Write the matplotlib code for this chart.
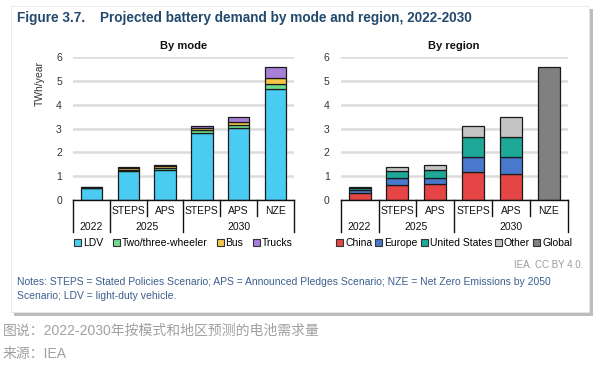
import matplotlib
matplotlib.use("Agg")
import matplotlib.pyplot as plt
from matplotlib.patches import Rectangle, Patch
import matplotlib.transforms as mtransforms
import numpy as np

plt.rcParams['font.family'] = ['Liberation Sans', 'Noto Sans CJK SC', 'DejaVu Sans']

# ---------------- data ----------------
level1 = ['', 'STEPS', 'APS', 'STEPS', 'APS', 'NZE']
level2 = ['2022', '2025', '2025', '2030', '2030', '2030']

mode_names = ['LDV', 'Two/three-wheeler', 'Bus', 'Trucks']
ldv = [0.49, 1.23, 1.25, 2.83, 3.03, 4.68]
two_three = [0.02, 0.05, 0.09, 0.10, 0.12, 0.19]
bus = [0.02, 0.05, 0.07, 0.08, 0.12, 0.27]
trucks = [0.02, 0.05, 0.08, 0.12, 0.22, 0.46]

region_names = ['China', 'Europe', 'United States', 'Other', 'Global']
china = [0.30, 0.63, 0.66, 1.18, 1.08, 0]
europe = [0.12, 0.30, 0.28, 0.64, 0.71, 0]
united_states = [0.08, 0.31, 0.33, 0.83, 0.86, 0]
other = [0.05, 0.14, 0.22, 0.48, 0.84, 0]
global_ = [0, 0, 0, 0, 0, 5.6]

yticks = [0, 1, 2, 3, 4, 5, 6]

mode_colors = ['#4acbf2', '#6fdc8c', '#f5c84a', '#a77fd8']
region_colors = ['#e64545', '#4a78cc', '#1ea898', '#c4c4c4', '#808080']

# ---------------- figure ----------------
fig = plt.figure(figsize=(6.0, 3.66), dpi=100)
fig.patch.set_facecolor('white')

W, H = 600.0, 366.0
def fx(px): return px / W
def fy(py): return 1 - py / H

# card with shadow
shadow = Rectangle((fx(14), fy(316)), fx(579), (316 - 9) / H, transform=fig.transFigure,
                   facecolor='#bdbdbd', edgecolor='none', zorder=-2)
card = Rectangle((fx(11), fy(312)), fx(578), (312 - 6) / H, transform=fig.transFigure,
                 facecolor='white', edgecolor='#e6e6e6', linewidth=0.6, zorder=-1)
fig.patches.extend([shadow, card])

title_color = '#234a6e'
fig.text(fx(17), fy(18), 'Figure 3.7.', fontsize=9.8, fontweight='bold', color=title_color, va='center', ha='left')
fig.text(fx(100), fy(18), 'Projected battery demand by mode and region, 2022-2030', fontsize=9.8,
         fontweight='bold', color=title_color, va='center', ha='left')

ax1 = fig.add_axes([fx(73), fy(200), fx(294) - fx(73), (200 - 57.3) / H])
ax2 = fig.add_axes([fx(340.7), fy(200), fx(567.7) - fx(340.7), (200 - 57.3) / H])
for a in (ax1, ax2):
    a.set_zorder(2)
    a.patch.set_alpha(0)

x = np.arange(len(level1))
bw = 0.58

def stack(ax, series, colors):
    bottom = np.zeros(len(x))
    for vals, c in zip(series, colors):
        vals = np.array(vals, dtype=float)
        mask = vals > 0
        ax.bar(x[mask], vals[mask], bw, bottom=bottom[mask], color=c, edgecolor='#1a1a1a',
               linewidth=0.9, zorder=3)
        bottom += vals

stack(ax1, [ldv, two_three, bus, trucks], mode_colors)
stack(ax2, [china, europe, united_states, other, global_], region_colors)

ah = 142.7  # axes height in px
def style(ax, title):
    ax.set_xlim(-0.5, len(x) - 0.5)
    ax.set_ylim(0, 6)
    ax.set_yticks(yticks)
    ax.set_yticklabels([str(t) for t in yticks], fontsize=7.5, color='#333333')
    ax.tick_params(axis='y', length=0, pad=8)
    ax.set_xticks([])
    for s in ['top', 'right', 'left']:
        ax.spines[s].set_visible(False)
    ax.spines['bottom'].set_color('#111111')
    ax.spines['bottom'].set_linewidth(1.0)
    ax.spines['bottom'].set_zorder(5)
    ax.yaxis.grid(True, color='#dcdcdc', linewidth=1.8, zorder=0)
    ax.set_axisbelow(True)
    ax.set_title(title, fontsize=8, fontweight='bold', pad=6, color='#111111')
    trans = mtransforms.blended_transform_factory(ax.transData, ax.transAxes)
    short = -16 / ah
    long_ = -32 / ah
    n = len(x)
    for i in range(n + 1):
        b = i - 0.5
        if i == 0 or i == n or level2[i - 1] != level2[i]:
            d = long_
        else:
            d = short
        ax.plot([b, b], [0, d], color='#111111', linewidth=1.0, transform=trans, clip_on=False, zorder=5)
    for i, lab in enumerate(level1):
        if lab:
            ax.text(i, -10.5 / ah, lab, transform=trans, ha='center', va='center', fontsize=7.5, color='#111111')
    groups = []
    for i, g in enumerate(level2):
        if groups and groups[-1][0] == g:
            groups[-1][2] = i
        else:
            groups.append([g, i, i])
    for g, a, b in groups:
        ax.text((a + b) / 2, -27 / ah, g, transform=trans, ha='center', va='center', fontsize=7.5, color='#111111')

style(ax1, 'By mode')
style(ax2, 'By region')

fig.text(fx(40), fy(84), 'TWh/year', rotation=90, fontsize=7.5, ha='center', va='center', color='#333333')

def legend(ax, names, colors, spacing):
    handles = [Patch(facecolor=c, edgecolor='#333333', linewidth=0.8) for c in colors]
    ax.legend(handles, names, loc='center', bbox_to_anchor=(0.5, -43 / ah), ncol=len(names),
              frameon=False, fontsize=7.5, handlelength=0.65, handleheight=0.65, handletextpad=0.2,
              columnspacing=spacing, borderaxespad=0, borderpad=0)

legend(ax1, mode_names, mode_colors, 0.9)
legend(ax2, region_names, region_colors, 0.3)

fig.text(fx(583), fy(265), 'IEA. CC BY 4.0.', fontsize=7, color='#9a9a9a', ha='right', va='center')

note_color = '#3d5f8e'
fig.text(fx(17), fy(282), 'Notes: STEPS = Stated Policies Scenario; APS = Announced Pledges Scenario; NZE = Net Zero Emissions by 2050',
         fontsize=7.5, color=note_color, ha='left', va='center')
fig.text(fx(17), fy(296), 'Scenario; LDV = light-duty vehicle.', fontsize=7.5, color=note_color, ha='left', va='center')

fig.text(fx(3), fy(331), '图说：2022-2030年按模式和地区预测的电池需求量', fontsize=10, color='#a0a0a0',
         ha='left', va='center')
fig.text(fx(3), fy(354), '来源：IEA', fontsize=10, color='#a0a0a0', ha='left', va='center')

fig.savefig('out.png', dpi=100, facecolor='white')
